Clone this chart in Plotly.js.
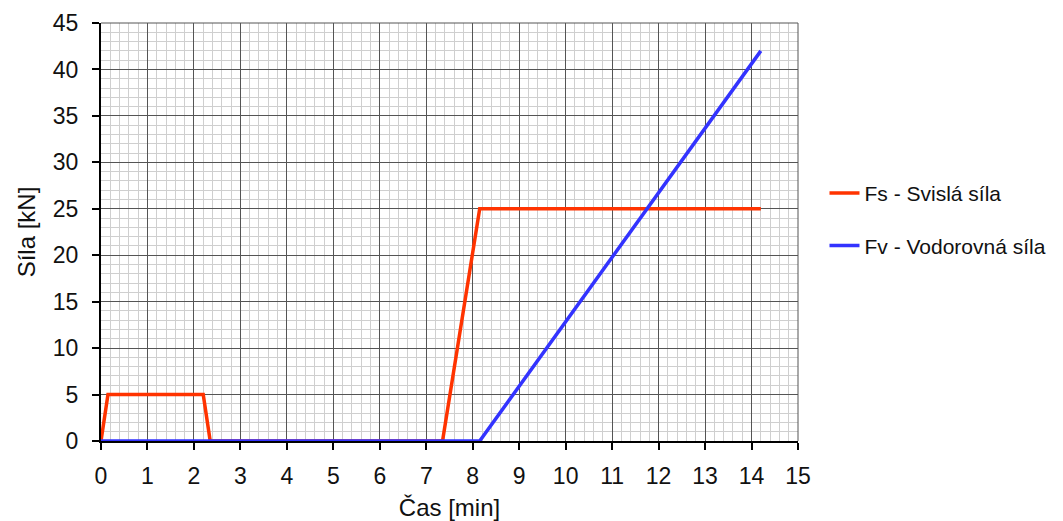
<!DOCTYPE html>
<html><head><meta charset="utf-8">
<script src="https://cdn.plot.ly/plotly-3.0.1.min.js"></script>
<style>html,body{margin:0;padding:0;background:#fff}</style>
</head><body><div id="chart" style="width:1063px;height:521px"></div>
<script>
const fsTime = [0, 0.15, 2.2, 2.35, 7.35, 8.15, 14.2];
const fsForce = [0, 5, 5, 0, 0, 25, 25];
const fvTime = [0, 8.15, 14.2];
const fvForce = [0, 0, 42];
const seriesNames = ['Fs - Svislá síla', 'Fv - Vodorovná síla'];

const font = {family: 'Liberation Sans, Arial, sans-serif', color: '#111'};
const traces = [
  {x: fsTime, y: fsForce, name: seriesNames[0], legendgroup: 'a', mode: 'lines', line: {color: '#ff3300', width: 3.5}},
  {x: fvTime, y: fvForce, name: seriesNames[1], legendgroup: 'b', mode: 'lines', line: {color: '#3333ff', width: 3.5}}
];
const layout = {
  width: 1063, height: 521,
  margin: {l: 101, r: 265, t: 23, b: 80},
  paper_bgcolor: '#fff', plot_bgcolor: '#fff',
  font: font,
  showlegend: true,
  legend: {x: 1.038, y: 0.53, xanchor: 'left', yanchor: 'middle', font: {size: 21, family: font.family, color: '#111'}, traceorder: 'grouped', tracegroupgap: 22},
  xaxis: {
    range: [0, 15], dtick: 1, tick0: 0, automargin: false,
    showgrid: true, gridcolor: '#555', gridwidth: 1,
    minor: {dtick: 0.2, showgrid: true, gridcolor: '#cfcfcf', gridwidth: 1},
    showline: true, linecolor: '#000', linewidth: 2,
    ticks: 'outside', ticklen: 7, tickwidth: 2, tickcolor: '#000',
    zeroline: false,
    tickfont: {size: 23},
    ticklabelstandoff: 6,
    title: {text: 'Čas [min]', font: {size: 24}, standoff: 14}
  },
  yaxis: {
    range: [0, 45], dtick: 5, tick0: 0, automargin: false,
    showgrid: true, gridcolor: '#555', gridwidth: 1,
    minor: {dtick: 1, showgrid: true, gridcolor: '#cfcfcf', gridwidth: 1},
    showline: true, linecolor: '#000', linewidth: 2,
    ticks: 'outside', ticklen: 7, tickwidth: 2, tickcolor: '#000',
    zeroline: false,
    tickfont: {size: 23},
    ticklabelstandoff: 9,
    title: {text: 'Síla [kN]', font: {size: 24}, standoff: 10}
  },
  shapes: [
    {type: 'line', xref: 'paper', yref: 'paper', x0: 1, x1: 1, y0: 0, y1: 1, line: {color: '#555', width: 1}},
    {type: 'line', xref: 'paper', yref: 'paper', x0: 0, x1: 1, y0: 1, y1: 1, line: {color: '#555', width: 1}}
  ]
};
Plotly.newPlot('chart', traces, layout, {displayModeBar: false, staticPlot: true});
</script></body></html>
